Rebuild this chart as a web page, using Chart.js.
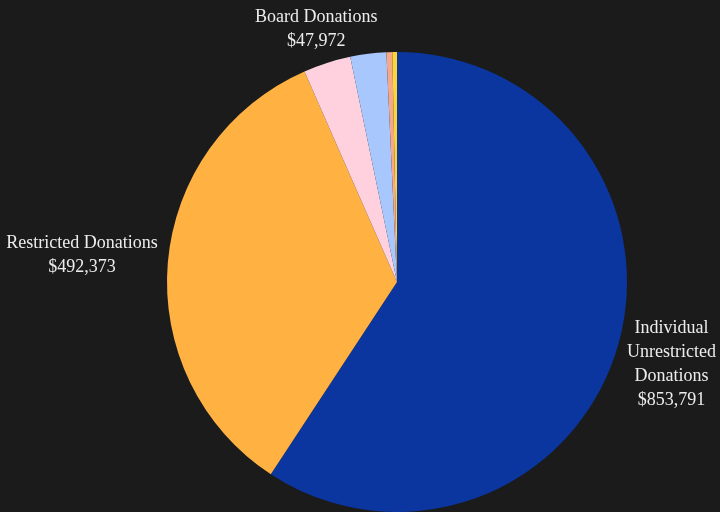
<!DOCTYPE html>
<html>
<head>
<meta charset="utf-8">
<script src="https://cdn.jsdelivr.net/npm/chart.js@4.4.1/dist/chart.umd.min.js"></script>
<style>
html,body{margin:0;padding:0;background:#1b1b1b;}
#wrap{width:720px;height:512px;position:relative;}
</style>
</head>
<body>
<div id="wrap"><canvas id="donationsChart"></canvas></div>
<script>
// donation sources, clockwise from 12 o'clock
const categories = [
  "Individual Unrestricted Donations",
  "Restricted Donations",
  "Board Donations",
  "Foundation Grants",
  "Corporate Gifts",
  "Other"
];
const amounts = [853791, 492373, 47972, 36400, 5900, 4700];
const sliceColors = ["#0b36a0", "#ffb142", "#ffd1df", "#a7c7fd", "#f6a98a", "#fcd637"];

const total = amounts.reduce((a, b) => a + b, 0);
const fmt = v => "$" + v.toLocaleString("en-US");

// outside labels, box edge sits a fixed gap off the rim
const outsideLabels = {
  id: "outsideLabels",
  afterDatasetsDraw(chart) {
    const ctx = chart.ctx;
    const meta = chart.getDatasetMeta(0);
    const gap = 10, lineH = 24;
    ctx.save();
    ctx.font = "18px 'Liberation Serif', serif";
    ctx.fillStyle = "#ececec";
    ctx.textAlign = "center";
    ctx.textBaseline = "middle";
    meta.data.forEach((arc, i) => {
      if (amounts[i] / total < 0.03) return;
      const p = arc.getProps(["x", "y", "startAngle", "endAngle", "outerRadius"], true);
      const mid = (p.startAngle + p.endAngle) / 2;
      const dx = Math.cos(mid), dy = Math.sin(mid);
      const ex = p.x + (p.outerRadius + gap) * dx;
      let maxW = dx > 0.5 ? chart.width - ex - 4 : (dx < -0.5 ? ex - 4 : chart.width);
      // greedy word wrap
      const words = categories[i].split(" ");
      const lines = [];
      let cur = "";
      words.forEach(w => {
        const t = cur ? cur + " " + w : w;
        if (cur && ctx.measureText(t).width > maxW) { lines.push(cur); cur = w; }
        else cur = t;
      });
      lines.push(cur);
      lines.push(fmt(amounts[i]));
      const w = Math.max(...lines.map(l => ctx.measureText(l).width));
      const hw = w / 2, hh = lines.length * lineH / 2;
      const t = Math.min(Math.abs(dx) > 1e-6 ? hw / Math.abs(dx) : Infinity,
                         Math.abs(dy) > 1e-6 ? hh / Math.abs(dy) : Infinity);
      const cx = p.x + (p.outerRadius + gap + t) * dx;
      const cy = p.y + (p.outerRadius + gap + t) * dy;
      lines.forEach((l, k) => {
        ctx.fillText(l, cx, cy - hh + lineH * (k + 0.5));
      });
    });
    ctx.restore();
  }
};

new Chart(document.getElementById("donationsChart"), {
  type: "pie",
  data: {
    labels: categories,
    datasets: [{
      data: amounts,
      backgroundColor: sliceColors,
      borderWidth: 0,
      hoverOffset: 0,
      offset: 0
    }]
  },
  options: {
    responsive: true,
    maintainAspectRatio: false,
    animation: false,
    layout: { padding: { top: 52, bottom: 0, left: 167, right: 93 } },
    plugins: {
      legend: { display: false },
      tooltip: { enabled: false }
    }
  },
  plugins: [outsideLabels]
});
</script>
</body>
</html>
